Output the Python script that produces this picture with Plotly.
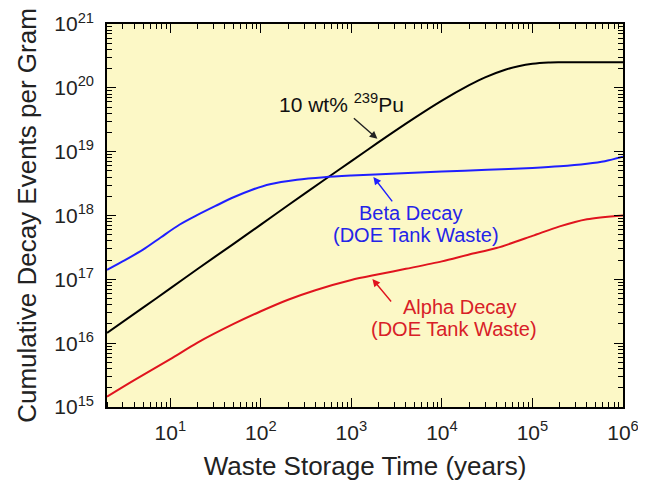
import plotly.graph_objects as go
import math

# ---- data ----
pu_t = [2, 5, 10, 20, 50, 100, 200, 500, 1000, 2000, 5000, 1e4, 2e4, 3e4, 5e4, 7e4, 1e5, 1.5e5, 2e5, 5e5, 1e6]
pu_v = [1.45e16, 3.6e16, 7.2e16, 1.45e17, 3.6e17, 7.2e17, 1.45e18, 3.6e18, 7.1e18, 1.41e19, 3.38e19,
        6.3e19, 1.10e20, 1.46e20, 1.92e20, 2.18e20, 2.38e20, 2.49e20, 2.51e20, 2.52e20, 2.52e20]

beta_t = [2, 3.16, 5, 7.9, 12.6, 20, 31.6, 50, 79, 126, 251, 501, 1000, 3162, 1e4, 31620, 1e5, 2e5, 4e5, 6.3e5, 1e6]
beta_v = [1.41e17, 2.0e17, 2.92e17, 4.57e17, 7.16e17, 1.02e18, 1.41e18, 1.93e18, 2.51e18, 3.09e18, 3.63e18,
          3.98e18, 4.22e18, 4.57e18, 4.90e18, 5.19e18, 5.56e18, 5.89e18, 6.46e18, 7.08e18, 8.32e18]

alpha_t = [2, 4, 10, 20, 50, 100, 200, 400, 1000, 2000, 4000, 1e4, 2e4, 4e4, 1e5, 2e5, 4e5, 1e6]
alpha_v = [1.45e15, 2.63e15, 5.62e15, 1.02e16, 2.0e16, 3.16e16, 4.79e16, 6.76e16, 9.77e16, 1.20e17, 1.46e17,
           1.91e17, 2.45e17, 3.09e17, 4.79e17, 6.76e17, 8.71e17, 1.0e18]

x_tickvals = [10, 100, 1000, 1e4, 1e5, 1e6]
x_ticktext = ["10<sup>1</sup>", "10<sup>2</sup>", "10<sup>3</sup>", "10<sup>4</sup>", "10<sup>5</sup>", "10<sup>6</sup>"]
y_tickvals = [1e15, 1e16, 1e17, 1e18, 1e19, 1e20, 1e21]
y_ticktext = ["10<sup>15</sup>", "10<sup>16</sup>", "10<sup>17</sup>", "10<sup>18</sup>",
              "10<sup>19</sup>", "10<sup>20</sup>", "10<sup>21</sup>"]

FONT = "Arial, Liberation Sans, sans-serif"
BLUE_LINE = "#1f1fff"
BLUE_TXT = "#2424e8"
RED_LINE = "#e0141e"
RED_TXT = "#d82028"

x_minor = [float(m) * 10.0 ** e for e in range(0, 6) for m in range(2, 10)]
y_minor = [float(m) * 10.0 ** e for e in range(15, 21) for m in range(2, 10)]
X_RANGE = [math.log10(2), 6]
Y_RANGE = [15, 21]

fig = go.Figure()
fig.add_trace(go.Scatter(x=pu_t, y=pu_v, mode="lines",
                         line=dict(color="black", width=2, shape="spline", smoothing=0.8), showlegend=False))
fig.add_trace(go.Scatter(x=beta_t, y=beta_v, mode="lines",
                         line=dict(color=BLUE_LINE, width=2, shape="spline", smoothing=0.8), showlegend=False))
fig.add_trace(go.Scatter(x=alpha_t, y=alpha_v, mode="lines",
                         line=dict(color=RED_LINE, width=2, shape="spline", smoothing=0.8), showlegend=False))
# invisible helper traces (copies of the black curve) that register the tick-only overlay axes
for xa, ya in [("x2", "y"), ("x", "y2"), ("x3", "y"), ("x", "y3")]:
    fig.add_trace(go.Scatter(x=pu_t, y=pu_v, xaxis=xa, yaxis=ya, mode="lines",
                             line=dict(color="rgba(0,0,0,0)", width=1), showlegend=False, hoverinfo="skip"))

MINOR = dict(ticks="inside", ticklen=5, tickwidth=1, tickcolor="black", showgrid=False, tickmode="array")
base = dict(type="log", showgrid=False, zeroline=False, showline=True, linecolor="black", linewidth=1.5)
MAJ = dict(ticks="inside", ticklen=9, tickwidth=1, tickcolor="black", showticklabels=False, tickmode="array")

layout = dict(
    xaxis=dict(**base, range=X_RANGE, mirror=True, ticks="outside", ticklen=6, tickcolor="rgba(0,0,0,0)",
               tickmode="array", tickvals=x_tickvals, ticktext=x_ticktext,
               tickfont=dict(family=FONT, size=21, color="#222"), ticklabeloverflow="allow",
               minor=dict(**MINOR, tickvals=x_minor),
               title=dict(text="Waste Storage Time (years)", font=dict(family=FONT, size=26, color="#222"),
                          standoff=14)),
    yaxis=dict(**base, range=Y_RANGE, mirror=True, ticks="outside", ticklen=7, tickcolor="rgba(0,0,0,0)",
               tickmode="array", tickvals=y_tickvals, ticktext=y_ticktext,
               tickfont=dict(family=FONT, size=21, color="#222"), ticklabeloverflow="allow",
               minor=dict(**MINOR, tickvals=y_minor),
               title=dict(text="Cumulative Decay Events per Gram", font=dict(family=FONT, size=26, color="#222"),
                          standoff=10)),
    xaxis2=dict(**base, **MAJ, range=X_RANGE, overlaying="x", side="top", anchor="y",
                tickvals=x_tickvals, minor=dict(**MINOR, tickvals=x_minor)),
    yaxis2=dict(**base, **MAJ, range=Y_RANGE, overlaying="y", side="right", anchor="x",
                tickvals=y_tickvals, minor=dict(**MINOR, tickvals=y_minor)),
    xaxis3=dict(**base, **MAJ, range=X_RANGE, overlaying="x", side="bottom", anchor="y",
                tickvals=x_tickvals),
    yaxis3=dict(**base, **MAJ, range=Y_RANGE, overlaying="y", side="left", anchor="x",
                tickvals=y_tickvals),
)

def lx(px):
    return 1 + (px - 170) / 90.5

def ly(py):
    return 15 + (407 - py) / 63.8

anns = []
anns.append(dict(x=lx(377), y=ly(139), ax=-25, ay=-22, text="", showarrow=True, arrowhead=2,
                 arrowsize=1.1, arrowwidth=1.4, arrowcolor="#222"))
anns.append(dict(x=lx(373), y=ly(177), ax=20, ay=26, text="", showarrow=True, arrowhead=2,
                 arrowsize=1.1, arrowwidth=1.4, arrowcolor=BLUE_LINE))
anns.append(dict(x=lx(372), y=ly(279), ax=20, ay=24, text="", showarrow=True, arrowhead=2,
                 arrowsize=1.1, arrowwidth=1.4, arrowcolor=RED_LINE))
anns.append(dict(x=lx(341), y=ly(103), text="10 wt% <sup>239</sup>Pu", showarrow=False,
                 font=dict(family=FONT, size=21, color="#111")))
anns.append(dict(x=lx(410), y=ly(213), text="Beta Decay", showarrow=False,
                 font=dict(family=FONT, size=20, color=BLUE_TXT)))
anns.append(dict(x=lx(416), y=ly(235), text="(DOE Tank Waste)", showarrow=False,
                 font=dict(family=FONT, size=20, color=BLUE_TXT)))
anns.append(dict(x=lx(459), y=ly(307), text="Alpha Decay", showarrow=False,
                 font=dict(family=FONT, size=20, color=RED_TXT)))
anns.append(dict(x=lx(454), y=ly(329), text="(DOE Tank Waste)", showarrow=False,
                 font=dict(family=FONT, size=20, color=RED_TXT)))
for a in anns:
    a.update(xref="x", yref="y")

fig.update_layout(
    **layout,
    width=638, height=481,
    margin=dict(l=99, r=23, t=16, b=82, autoexpand=False),
    paper_bgcolor="white", plot_bgcolor="#fcf8c6",
    annotations=anns,
    font=dict(family=FONT),
)

fig.write_html("out.html")
